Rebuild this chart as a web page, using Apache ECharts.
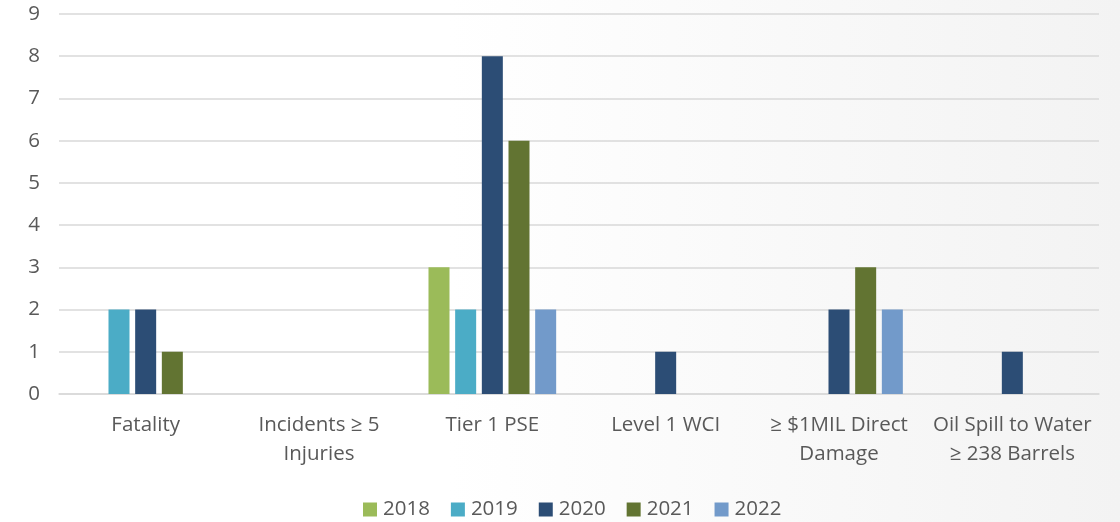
<!DOCTYPE html>
<html><head><meta charset="utf-8">
<script src="https://cdn.jsdelivr.net/npm/echarts@6/dist/echarts.min.js"></script>
<style>html,body{margin:0;padding:0;}#c{width:1120px;height:522px;background:linear-gradient(90deg,#ffffff 0%,#ffffff 40%,#f3f3f3 100%);}</style>
</head><body><div id="c"></div>
<script>
const categories = ['Fatality', 'Incidents \u2265 5\nInjuries', 'Tier 1 PSE', 'Level 1 WCI', '\u2265 $1MIL Direct\nDamage', 'Oil Spill to Water\n\u2265 238 Barrels'];
const seriesNames = ['2018', '2019', '2020', '2021', '2022'];
const v2018 = [0, 0, 3, 0, 0, 0];
const v2019 = [2, 0, 2, 0, 0, 0];
const v2020 = [2, 0, 8, 1, 2, 1];
const v2021 = [1, 0, 6, 0, 3, 0];
const v2022 = [0, 0, 2, 0, 2, 0];
const yTicks = [0, 1, 2, 3, 4, 5, 6, 7, 8, 9];
const colors = ['#9bbb59', '#4bacc6', '#2c4d75', '#627432', '#729aca'];
const values = [v2018, v2019, v2020, v2021, v2022];
const chart = echarts.init(document.getElementById('c'), null, {renderer: 'canvas'});
const font = '"Open Sans", "Noto Sans", sans-serif';
chart.setOption({
  backgroundColor: 'transparent',
  animation: false,
  color: colors,
  textStyle: {fontFamily: font},
  grid: {left: 59, right: 21, top: 14, bottom: 128, containLabel: false},
  legend: {
    top: 494, left: 358, padding: 5, itemWidth: 14, itemHeight: 14, itemGap: 21,
    icon: 'rect',
    textStyle: {fontSize: 20.5, color: '#595959', fontFamily: font, padding: [0, 0, 0, 1]},
    data: seriesNames
  },
  xAxis: {
    type: 'category', data: categories,
    axisLine: {lineStyle: {color: '#d9d9d9', width: 1.5}},
    axisTick: {show: false},
    axisLabel: {fontSize: 20.5, color: '#595959', lineHeight: 29, margin: 17, interval: 0, fontFamily: font}
  },
  yAxis: {
    type: 'value', min: 0, max: 9, interval: 1,
    axisLine: {show: false}, axisTick: {show: false},
    axisLabel: {fontSize: 20.5, color: '#595959', margin: 19, fontFamily: font,
      formatter: v => yTicks.includes(v) ? String(v) : ''},
    splitLine: {lineStyle: {color: '#d9d9d9', width: 1.5}}
  },
  series: seriesNames.map((n, i) => ({
    name: n, type: 'bar', data: values[i], barWidth: 21, barGap: '27%',
    itemStyle: {color: colors[i]}
  }))
});
</script></body></html>
